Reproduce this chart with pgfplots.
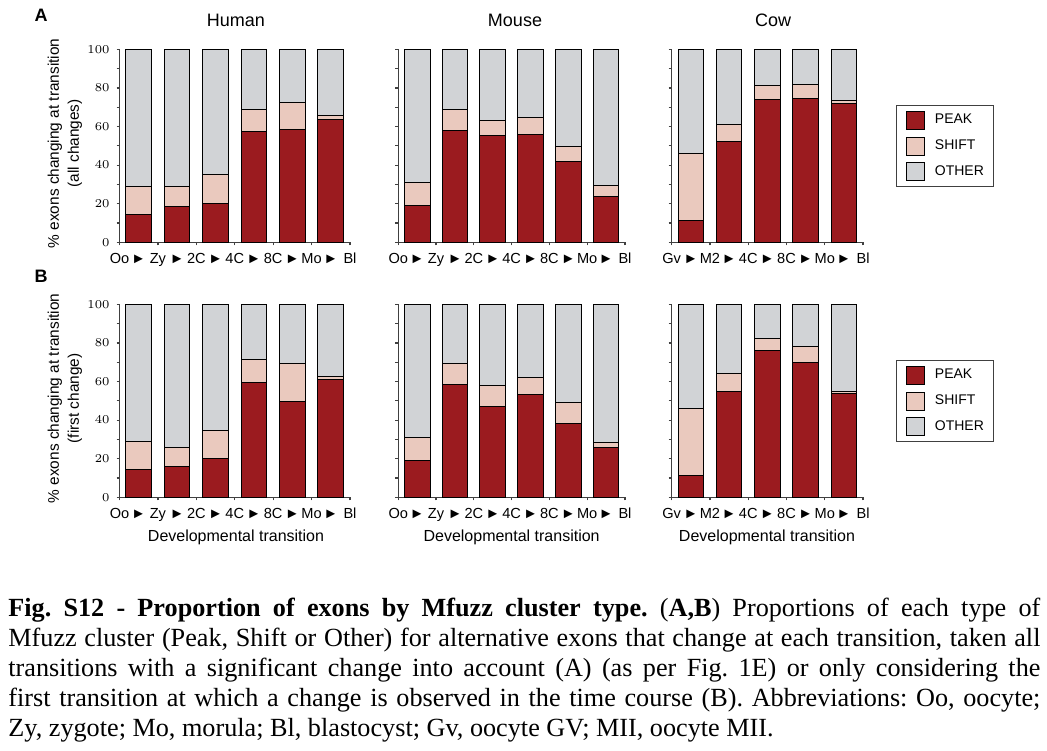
\documentclass[border=0pt]{standalone}
\usepackage{pgfplots}
\usepackage{pgfplotstable}
\pgfplotsset{compat=1.18}
\usepackage{fontspec}
\setmainfont{Liberation Sans}
\newfontfamily\capfont{Liberation Serif}
\newfontfamily\symfont{DejaVu Sans}

\definecolor{peak}{RGB}{155,27,31}
\definecolor{shift}{RGB}{234,201,190}
\definecolor{other}{RGB}{209,211,214}

% % of exons per Mfuzz cluster type, per transition
\pgfplotstableread{
x    peak shift other
0.5  14.2 14.5 71.3
1.5  18.3 10.4 71.3
2.5  19.9 15.3 64.8
3.5  57.2 11.7 31.1
4.5  58.7 13.8 27.5
5.5  63.7  2.1 34.2
}\humanA
\pgfplotstableread{
x    peak shift other
0.5  19.1 11.8 69.1
1.5  57.7 11.0 31.3
2.5  55.2  8.0 36.8
3.5  55.7  9.1 35.2
4.5  41.8  8.0 50.2
5.5  23.9  5.3 70.8
}\mouseA
\pgfplotstableread{
x    peak shift other
0.5  11.4 34.8 53.8
1.5  52.2  8.8 39.0
2.5  74.1  6.9 19.0
3.5  74.5  7.1 18.4
4.5  72.1  1.3 26.6
}\cowA
\pgfplotstableread{
x    peak shift other
0.5  14.3 14.5 71.2
1.5  16.2  9.5 74.3
2.5  20.3 14.4 65.3
3.5  59.7 11.5 28.8
4.5  49.7 19.8 30.5
5.5  61.0  1.6 37.4
}\humanB
\pgfplotstableread{
x    peak shift other
0.5  19.1 11.7 69.2
1.5  58.2 10.9 30.9
2.5  46.9 11.2 41.9
3.5  53.3  8.9 37.8
4.5  38.3 11.0 50.7
5.5  25.9  2.5 71.6
}\mouseB
\pgfplotstableread{
x    peak shift other
0.5  11.4 34.7 53.9
1.5  54.7  9.2 36.1
2.5  76.1  6.3 17.6
3.5  70.1  8.2 21.7
4.5  53.7  0.9 45.4
}\cowB

\pgfplotsset{
  stage/.style={
    ybar stacked, bar width=12.8pt,
    scale only axis, height=96.5pt, anchor=south west,
    xmin=0, ymin=0, ymax=100,
    axis x line*=bottom, axis y line*=left,
    axis line style={black!75, line width=0.6pt},
    tick align=outside, major tick length=1.5pt, minor tick length=1.5pt,
    tick style={black!75, line width=0.6pt},
    ytick={0,20,...,100}, minor ytick={10,30,...,90},
    yticklabel style={font=\fontsize{6}{7}\selectfont},
    xticklabel style={font=\fontsize{7.3}{8}\selectfont, text height=5.4pt, text depth=0pt, anchor=north},
    extra x tick style={major tick length=0pt,
      tick label style={font=\symfont\fontsize{6.6}{7}\selectfont, yshift=-1.6pt}},
  },
  six/.style={width=#1, xmax=6, xtick={0,...,6},
    extra x ticks={0.5,1.5,...,5.5},
    extra x tick labels={►,►,►,►,►,►}},
  six/.default=115.25pt,
  five/.style={width=95.65pt, xmax=5, xtick={0,...,5},
    xticklabels={Gv,M2,4C,8C,Mo,Bl},
    extra x ticks={0.5,1.5,...,4.5},
    extra x tick labels={►,►,►,►,►},
    legend style={at={(1.171,0.711)}, anchor=north west,
      draw=black!75, line width=0.6pt, inner xsep=4.8pt, inner ysep=2.7pt,
      row sep=3.3pt, font=\fontsize{7}{8}\selectfont, nodes={inner sep=0pt}},
    legend cell align=left,
    legend image code/.code={\draw[##1, line width=0.5pt] (0pt,-4.5pt) rectangle (9pt,4.5pt); \path (14pt,0pt);},
  },
  human/.style={xticklabels={Oo,Zy,2C,4C,8C,Mo,Bl}},
}

\newcommand{\bars}[1]{%
  \addplot[fill=peak, draw=black, line width=0.5pt] table[x=x, y=peak] {#1};
  \addplot[fill=shift, draw=black, line width=0.5pt] table[x=x, y=shift] {#1};
  \addplot[fill=other, draw=black, line width=0.5pt] table[x=x, y=other] {#1};
}

\begin{document}
\begin{tikzpicture}
\useasboundingbox (0pt,0pt) rectangle (523.5pt,-375pt);

% row A
\begin{axis}[stage, six, human, at={(59.75pt,-121.15pt)}]
  \bars{\humanA}
\end{axis}
\begin{axis}[stage, six=113.35pt, human, yticklabels={}, at={(199.15pt,-121.15pt)}]
  \bars{\mouseA}
\end{axis}
\begin{axis}[stage, five, yticklabels={}, at={(335.85pt,-121.15pt)}]
  \bars{\cowA}
  \legend{PEAK,SHIFT,OTHER}
\end{axis}

% row B
\begin{axis}[stage, six, human, at={(59.75pt,-248.65pt)}]
  \bars{\humanB}
\end{axis}
\begin{axis}[stage, six=113.35pt, human, yticklabels={}, at={(199.15pt,-248.65pt)}]
  \bars{\mouseB}
\end{axis}
\begin{axis}[stage, five, yticklabels={}, at={(335.85pt,-248.65pt)}]
  \bars{\cowB}
  \legend{PEAK,SHIFT,OTHER}
\end{axis}

\begin{scope}[every node/.style={inner sep=0pt}]
  \node[font=\bfseries\fontsize{9}{10}\selectfont] at (20.5pt,-7.75pt) {A};
  \node[font=\bfseries\fontsize{9}{10}\selectfont] at (20.5pt,-138.25pt) {B};
  \node[font=\fontsize{9}{10}\selectfont] at (118pt,-10.35pt) {Human};
  \node[font=\fontsize{9}{10}\selectfont] at (257.5pt,-10.35pt) {Mouse};
  \node[font=\fontsize{9}{10}\selectfont] at (386.5pt,-10.35pt) {Cow};
  \node[rotate=90, align=center, font=\fontsize{7.7}{10}\selectfont] at (32.5pt,-71.7pt)
    {\% exons changing at transition\\(all changes)};
  \node[rotate=90, align=center, font=\fontsize{7.7}{10}\selectfont] at (32.5pt,-199.2pt)
    {\% exons changing at transition\\(first change)};
  \node[font=\fontsize{8}{9}\selectfont] at (118pt,-268.75pt) {Developmental transition};
  \node[font=\fontsize{8}{9}\selectfont] at (255.8pt,-268.75pt) {Developmental transition};
  \node[font=\fontsize{8}{9}\selectfont] at (383.5pt,-268.75pt) {Developmental transition};
  \node[anchor=north west, text width=516pt, align=justify,
        font=\capfont\fontsize{13.1}{14.9}\selectfont\frenchspacing] at (4pt,-299pt)
    {\textbf{Fig. S12 - Proportion of exons by Mfuzz cluster type.} (\textbf{A,B}) Proportions of each type of\linebreak
     Mfuzz cluster (Peak, Shift or Other) for alternative exons that change at each transition, taken all\linebreak
     transitions with a significant change into account (A) (as per Fig. 1E) or only considering the\linebreak
     first transition at which a change is observed in the time course (B). Abbreviations: Oo, oocyte;\linebreak
     Zy, zygote; Mo, morula; Bl, blastocyst; Gv, oocyte GV; MII, oocyte MII.};
\end{scope}
\end{tikzpicture}
\end{document}
